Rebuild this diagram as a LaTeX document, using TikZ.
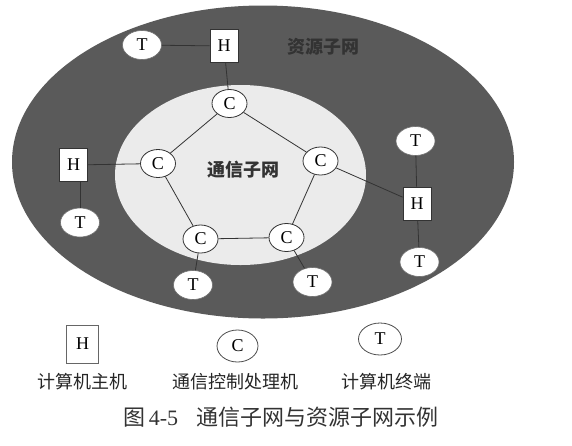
\documentclass[tikz,border=0pt]{standalone}
\usepackage{fontspec}
\setmainfont{Liberation Serif}
\newfontfamily\cjk{Noto Sans CJK SC}
\usetikzlibrary{shapes.geometric}
\definecolor{outerfill}{HTML}{5A5A5A}
\definecolor{innerfill}{HTML}{EBEBEB}
\definecolor{linecol}{HTML}{333333}
\definecolor{darktext}{HTML}{333333}
\tikzset{
  lett/.style={font=\fontsize{18}{18}\selectfont, text=black},
  hnode/.style={rectangle, draw=linecol, line width=0.8pt, fill=white, minimum width=28pt, minimum height=33pt, inner sep=0pt, lett},
  cnode/.style={ellipse, draw=linecol, line width=0.8pt, fill=white, minimum width=35pt, minimum height=28pt, inner sep=0pt, lett},
  tnode/.style={ellipse, draw=linecol!70, line width=0.6pt, fill=white, minimum width=39pt, minimum height=29pt, inner sep=0pt, lett},
  link/.style={draw=linecol, line width=0.8pt},
  netlabel/.style={font=\cjk\bfseries\fontsize{18}{18}\selectfont},
  leglabel/.style={font=\cjk\fontsize{18}{18}\selectfont, text=black!85},
}
\begin{document}
\begin{tikzpicture}[x=1pt, y=-1pt]
\useasboundingbox (0,0) rectangle (572,445);
\fill[white] (0,0) rectangle (572,445);
% subnets
\fill[outerfill] (263,162) ellipse [x radius=251, y radius=156.5];
\fill[innerfill] (240.5,175) ellipse [x radius=125.5, y radius=90];
\node[netlabel, text=darktext] (res) at (323,47) {资源子网};
\node[netlabel, text=black!80] (com) at (243,170) {通信子网};
% nodes
\node[hnode] (H1) at (224,46) {H};
\node[tnode] (T1) at (142,45) {T};
\node[cnode] (C1) at (229.5,103.5) {C};
\node[cnode] (C2) at (158,163.5) {C};
\node[cnode] (C3) at (320.5,161) {C};
\node[cnode] (C4) at (200.5,239) {C};
\node[cnode] (C5) at (286.5,237.5) {C};
\node[hnode] (H2) at (73.5,165) {H};
\node[tnode] (T2) at (80,222.5) {T};
\node[tnode] (T3) at (415.5,141) {T};
\node[hnode] (H3) at (417,203.5) {H};
\node[tnode] (T4) at (419.5,262) {T};
\node[tnode] (T5) at (193,285) {T};
\node[tnode] (T6) at (312.5,282) {T};
% connectors
\draw[link] (T1) -- (H1);
\draw[link] (H1) -- (C1);
\draw[link] (C1) -- (C2);
\draw[link] (C1) -- (C3);
\draw[link] (C2) -- (C4);
\draw[link] (C3) -- (C5);
\draw[link] (C4) -- (C5);
\draw[link] (H2) -- (C2);
\draw[link] (H2.south -| T2.north) -- (T2.north);
\draw[link] (C3) -- (H3);
\draw[link] (T3) -- (H3);
\draw[link] (H3) -- (T4);
\draw[link] (C4) -- (T5);
\draw[link] (C5) -- (T6);
% legend
\node[hnode, minimum width=32pt, minimum height=38pt, draw=black!60] (LH) at (82.5,344) {H};
\node[cnode, minimum width=41pt, minimum height=32pt, draw=black!70] (LC) at (237.5,346) {C};
\node[tnode, minimum width=43pt, minimum height=32pt, draw=black!70, line width=0.8pt] (LT) at (380,339) {T};
\node[leglabel] (LHl) at (82,382) {计算机主机};
\node[leglabel] (LCl) at (235.5,382) {通信控制处理机};
\node[leglabel] (LTl) at (386,382) {计算机终端};
\node[anchor=west, inner sep=0pt, text=black!80] (cap) at (123,417)
  {\fontsize{22}{22}\selectfont\cjk 图\rmfamily\,4-5\hspace{18pt}\cjk 通信子网与资源子网示例};
\end{tikzpicture}
\end{document}
